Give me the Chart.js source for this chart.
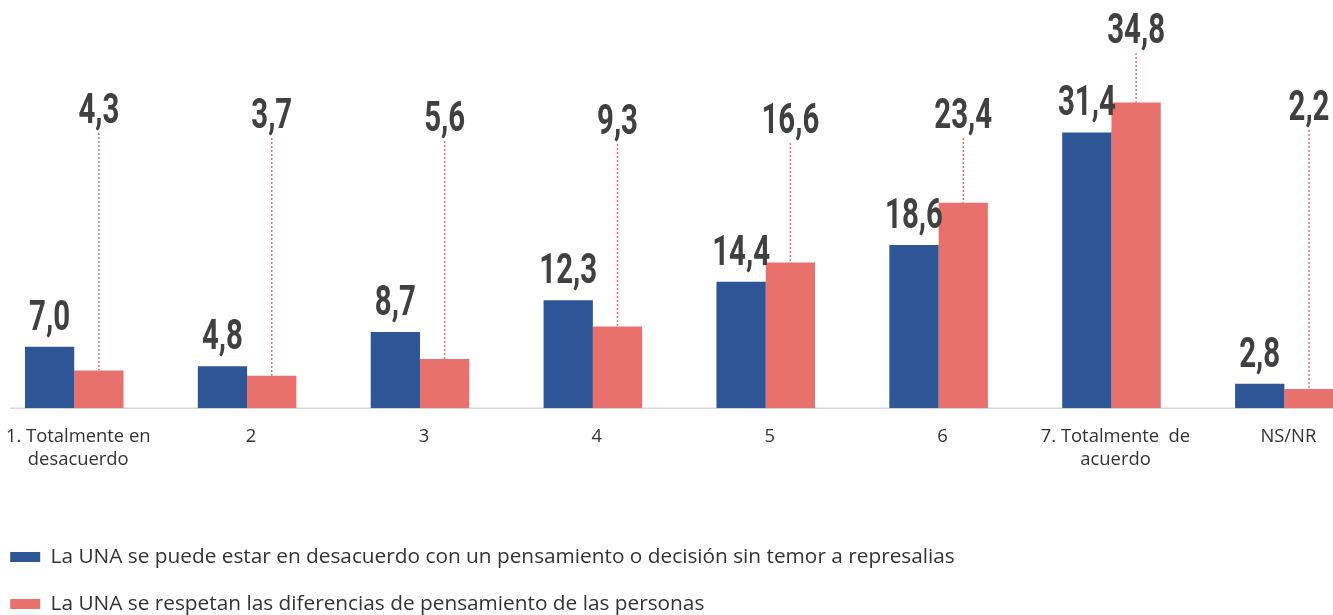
<!DOCTYPE html>
<html>
<head>
<meta charset="utf-8">
<script src="https://cdn.jsdelivr.net/npm/chart.js@4.4.0/dist/chart.umd.min.js"></script>
<style>
  html, body { margin: 0; padding: 0; background: #fff; overflow: hidden; }
  #wrap { position: absolute; left: -16.2px; top: 0; width: 1400px; height: 625px; }
</style>
</head>
<body>
<div id="wrap"><canvas id="chart" width="1400" height="625"></canvas></div>
<script>
const categories = [
  ["1. Totalmente en", "desacuerdo"], "2", "3", "4", "5", "6",
  ["7. Totalmente  de", "acuerdo"], "NS/NR"
];
const seriesNames = [
  "La UNA se puede estar en desacuerdo con un pensamiento o decisión sin temor a represalias",
  "La UNA se respetan las diferencias de pensamiento de las personas"
];
const sinTemor = [7.0, 4.8, 8.7, 12.3, 14.4, 18.6, 31.4, 2.8];
const respetan = [4.3, 3.7, 5.6, 9.3, 16.6, 23.4, 34.8, 2.2];

// where the red labels sit (baseline of the digits, px below the plot top)
const redLabelTop = [110, 115, 118, 121, 120, 115, 30, 107];

const BLUE = "#2E5596";
const RED = "#E9716D";

const fmt = (v) => v.toFixed(1).replace(".", ",");

function drawLabel(ctx, txt, x, y) {
  ctx.save();
  ctx.translate(x, y);
  ctx.scale(0.7, 1);
  ctx.font = "bold 42px Roboto";
  ctx.fillStyle = "#404040";
  ctx.textAlign = "center";
  ctx.textBaseline = "alphabetic";
  ctx.fillText(txt, 0, 0);
  ctx.restore();
}

const labelsPlugin = {
  id: "labelsPlugin",
  beforeDatasetsDraw(chart) {
    const ctx = chart.ctx;
    const y0 = chart.scales.y.getPixelForValue(0);
    ctx.save();
    ctx.strokeStyle = "#d9d9d9";
    ctx.lineWidth = 1.5;
    ctx.beginPath();
    ctx.moveTo(26.2, y0);
    ctx.lineTo(chart.chartArea.right, y0);
    ctx.stroke();
    ctx.restore();
  },
  afterDatasetsDraw(chart) {
    const ctx = chart.ctx;
    const top = chart.chartArea.top;
    chart.getDatasetMeta(0).data.forEach((bar, i) => {
      drawLabel(ctx, fmt(sinTemor[i]), bar.x, bar.y - 17);
    });
    chart.getDatasetMeta(1).data.forEach((bar, i) => {
      const ty = top + redLabelTop[i];
      drawLabel(ctx, fmt(respetan[i]), bar.x, ty);
      ctx.save();
      ctx.strokeStyle = RED;
      ctx.lineWidth = 1.5;
      ctx.setLineDash([2, 2]);
      ctx.beginPath();
      ctx.moveTo(bar.x, ty + 10);
      ctx.lineTo(bar.x, bar.y);
      ctx.stroke();
      ctx.restore();
    });
  }
};

const ctx = document.querySelector("#chart").getContext("2d");

const chart = new Chart(ctx, {
  type: "bar",
  data: {
    labels: categories,
    datasets: [
      {
        label: seriesNames[0],
        data: sinTemor,
        backgroundColor: BLUE,
        borderWidth: 0,
      },
      {
        label: seriesNames[1],
        data: respetan,
        backgroundColor: RED,
        borderWidth: 0,
      },
    ],
  },
  options: {
    responsive: false,
    animation: false,
    categoryPercentage: 0.57,
    barPercentage: 1,
    layout: {
      padding: { left: 0, right: 13.2, top: 13, bottom: 0.6 },
    },
    scales: {
      x: {
        grid: { display: false, drawTicks: false },
        border: { display: false },
        ticks: {
          padding: 17,
          labelOffset: 4,
          color: "#333",
          font: { family: "Open Sans", size: 18.4, lineHeight: 1.25 },
          maxRotation: 0,
          autoSkip: false,
        },
        afterFit: (scale) => { scale.height = 112.1; },
      },
      y: {
        min: 0,
        max: 45,
        grid: { display: false, drawTicks: false },
        border: { display: false },
        ticks: { display: false },
        afterFit: (scale) => { scale.width = 3.8; },
      },
    },
    plugins: {
      legend: {
        position: "bottom",
        align: "start",
        labels: {
          boxWidth: 30,
          boxHeight: 10,
          padding: 26.2,
          color: "#333",
          font: { family: "Open Sans", size: 20.8 },
        },
      },
      tooltip: { enabled: false },
    },
  },
  plugins: [labelsPlugin],
});
</script>
</body>
</html>
